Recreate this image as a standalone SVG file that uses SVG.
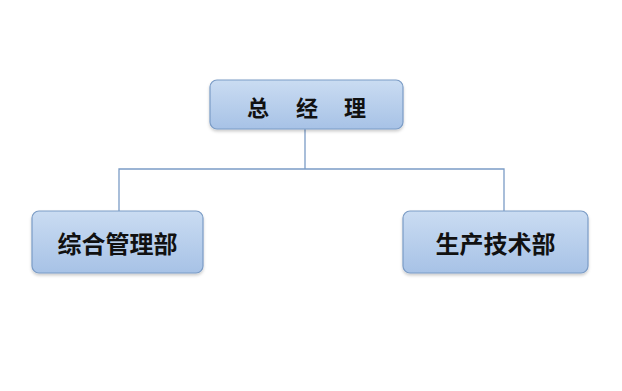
<svg xmlns="http://www.w3.org/2000/svg" width="622" height="391" viewBox="0 0 622 391">
<defs>
<linearGradient id="g" x1="0" y1="0" x2="0" y2="1">
<stop offset="0" stop-color="#cadcf2"/>
<stop offset="1" stop-color="#a7c2e6"/>
</linearGradient>
<filter id="sh" x="-10%" y="-10%" width="120%" height="130%">
<feDropShadow dx="0" dy="2" stdDeviation="1.5" flood-color="#000" flood-opacity="0.2"/>
</filter>
</defs>
<style>
.box{fill:url(#g);stroke:#7b9cc6;stroke-width:1.2;filter:url(#sh)}
.t{font-family:"Noto Sans CJK SC","Noto Sans CJK JP",sans-serif;font-weight:bold;fill:#111;text-anchor:middle;dominant-baseline:central}
.c{fill:none;stroke:#7b9cc6;stroke-width:1.3}
</style>
<rect width="622" height="391" fill="#fff"/>
<g id="connectors">
<path class="c" d="M305 129V169M119 211V169H504V211"/>
</g>
<g id="ceo">
<rect class="box" x="210" y="80" width="193" height="49" rx="7"/>
<text class="t" x="258" y="106" font-size="22">总</text>
<text class="t" x="307" y="106" font-size="22">经</text>
<text class="t" x="355" y="106" font-size="22">理</text>
</g>
<g id="admin">
<rect class="box" x="32" y="211" width="171" height="62" rx="7"/>
<text class="t" x="117.5" y="242" font-size="24">综合管理部</text>
</g>
<g id="tech">
<rect class="box" x="403" y="211" width="185" height="62" rx="7"/>
<text class="t" x="495.5" y="242" font-size="24">生产技术部</text>
</g>
</svg>
